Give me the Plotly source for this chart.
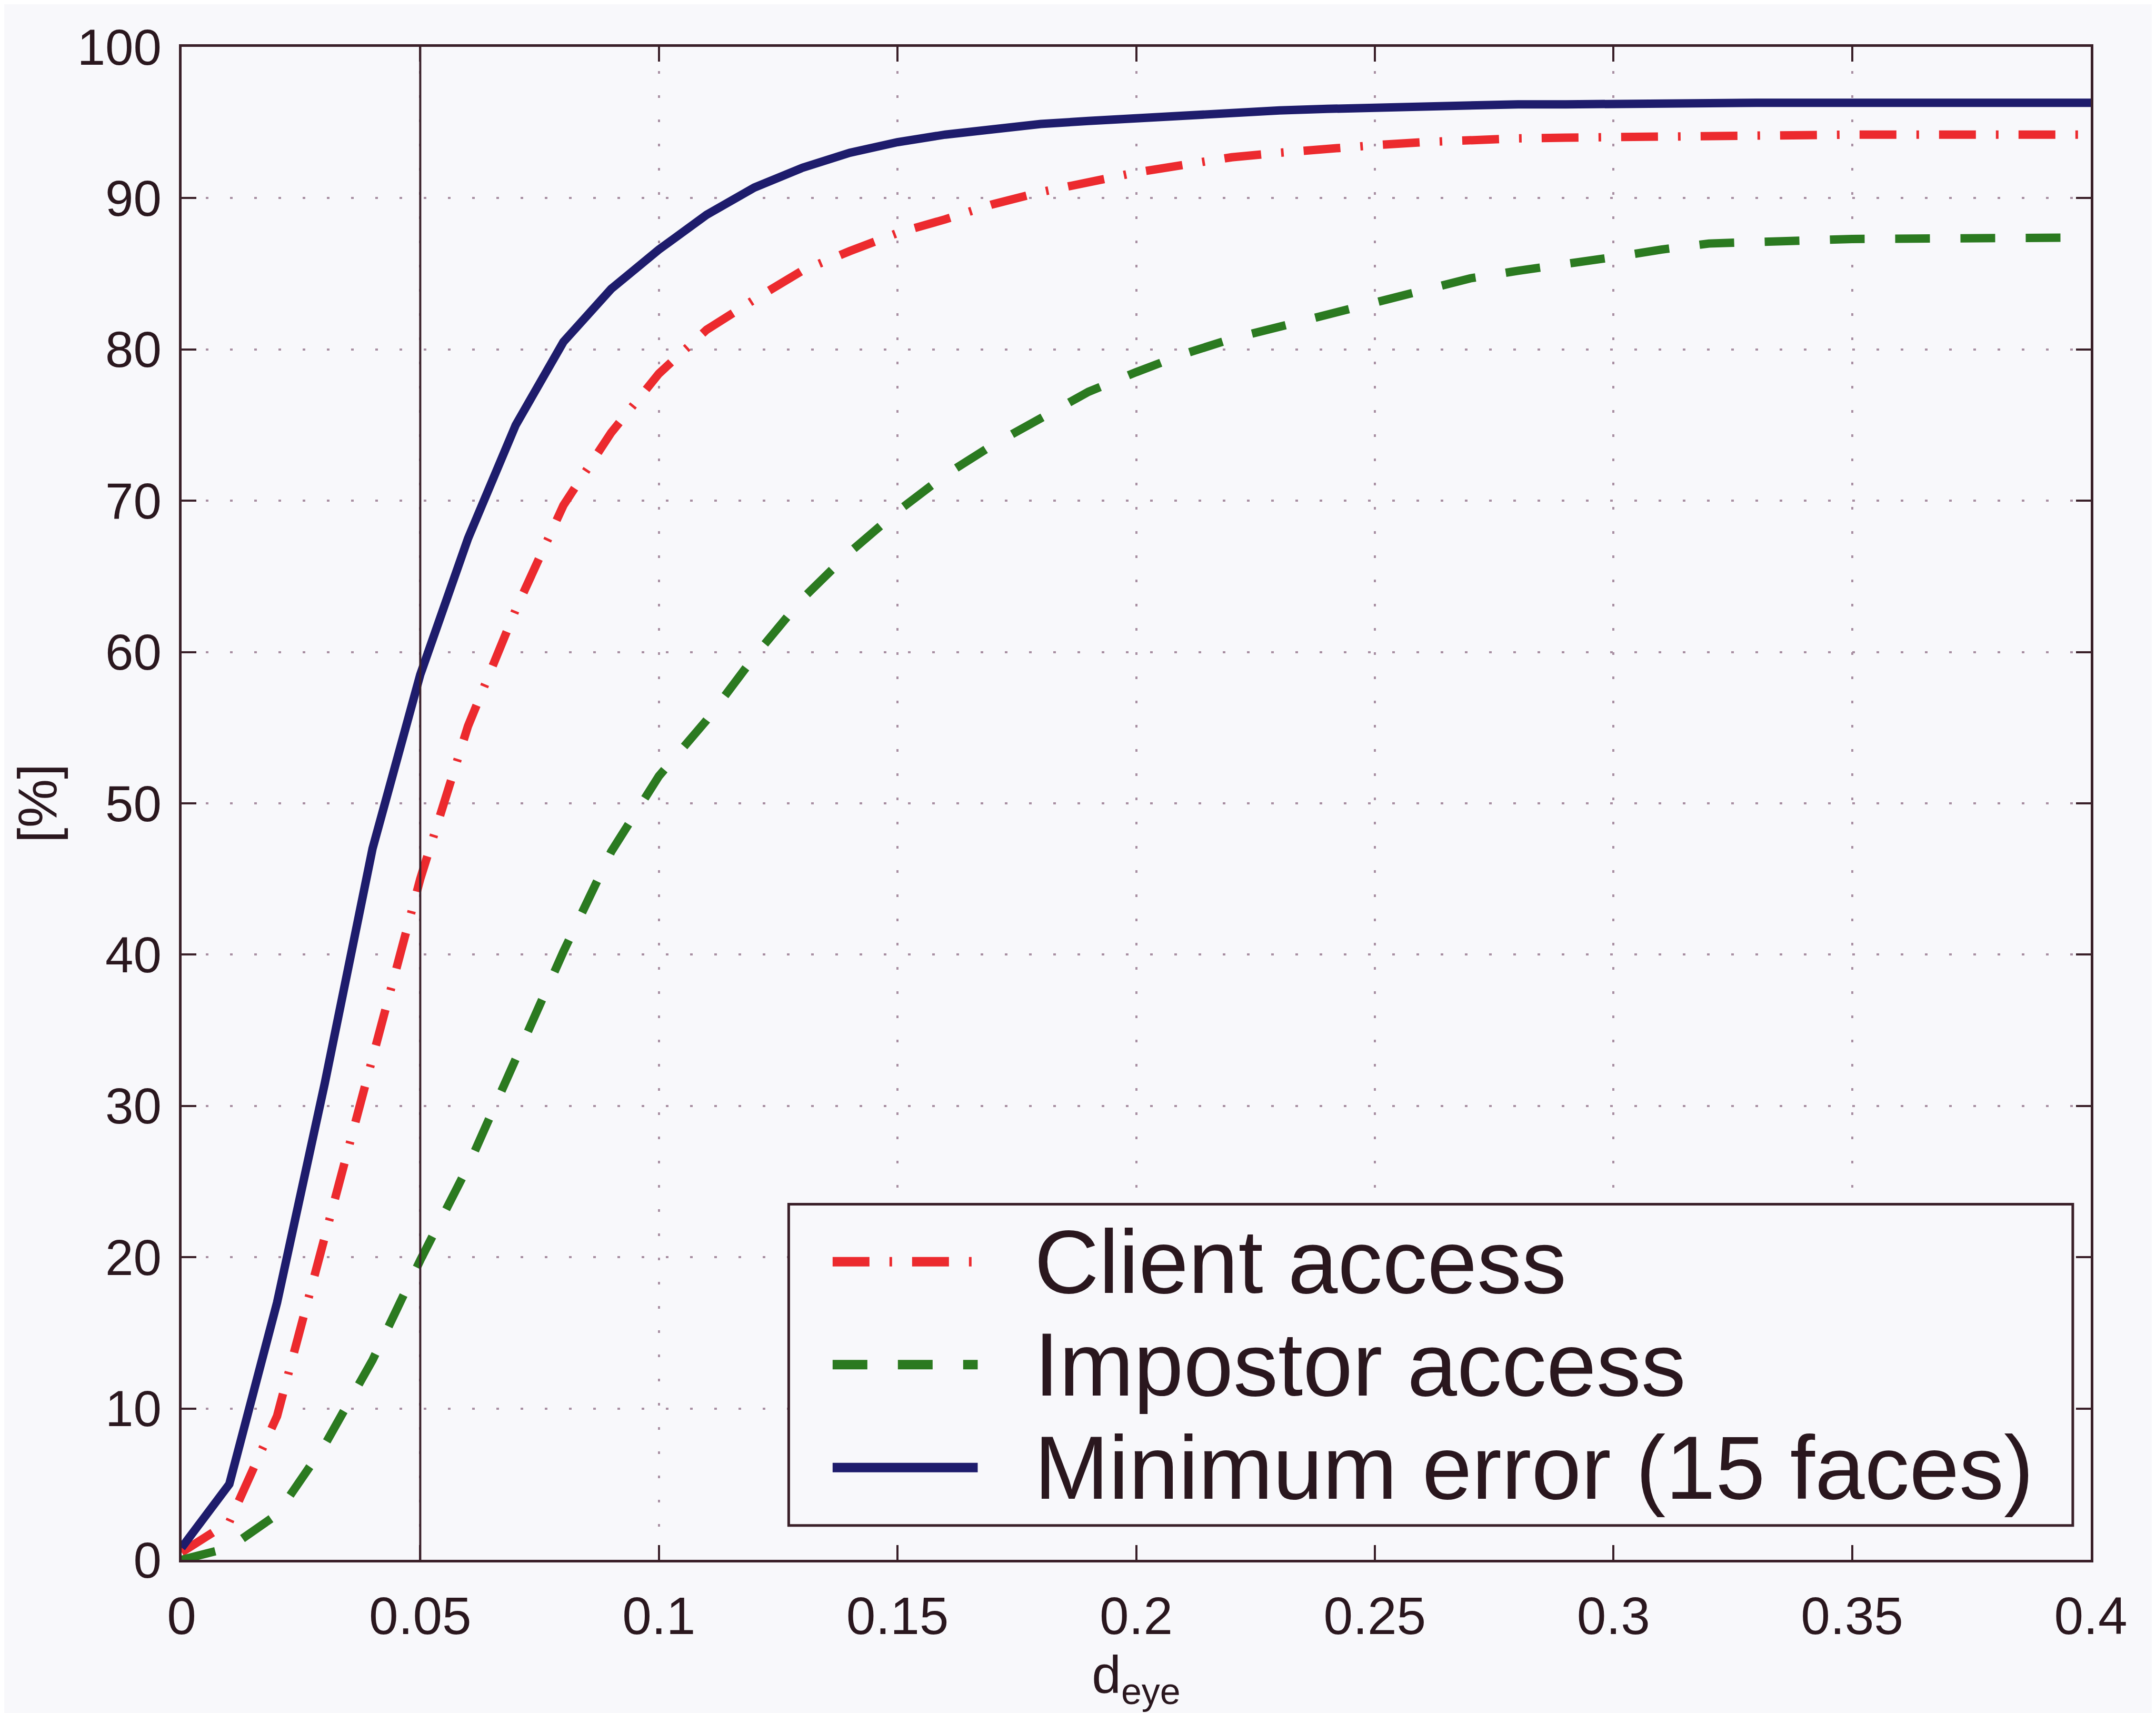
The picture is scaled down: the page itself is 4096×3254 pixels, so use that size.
import plotly.graph_objects as go

# ---- data ----
d_eye = [0.00, 0.01, 0.02, 0.03, 0.04, 0.05, 0.06, 0.07, 0.08, 0.09,
         0.10, 0.11, 0.12, 0.13, 0.14, 0.15, 0.16, 0.17, 0.18, 0.19,
         0.20, 0.21, 0.22, 0.23, 0.24, 0.25, 0.26, 0.27, 0.28, 0.29,
         0.30, 0.31, 0.32, 0.33, 0.34, 0.35, 0.40]

client_access = [0.5, 2.5, 9.5, 21.3, 32.7, 45.0, 55.1, 62.8, 69.7, 74.5,
                 78.4, 81.3, 83.3, 85.2, 86.5, 87.7, 88.6, 89.6, 90.4, 91.1,
                 91.7, 92.2, 92.7, 93.0, 93.3, 93.5, 93.7, 93.85, 93.95, 94.0,
                 94.05, 94.1, 94.1, 94.15, 94.15, 94.2, 94.2]

impostor_access = [0.0, 0.8, 3.0, 7.6, 13.2, 19.8, 26.0, 33.0, 40.2, 46.8,
                   51.8, 55.5, 59.7, 63.5, 66.6, 69.3, 71.7, 73.7, 75.5, 77.2,
                   78.5, 79.7, 80.7, 81.5, 82.3, 83.1, 83.9, 84.7, 85.2, 85.6,
                   86.1, 86.6, 87.0, 87.1, 87.2, 87.3, 87.4]

minimum_error = [0.8, 5.0, 17.0, 31.5, 47.0, 58.5, 67.5, 75.0, 80.5, 84.0,
                 86.6, 88.9, 90.7, 92.0, 93.0, 93.7, 94.2, 94.6, 94.9, 95.1,
                 95.3, 95.5, 95.7, 95.8, 95.9, 96.0, 96.1, 96.15, 96.2, 96.2,
                 96.25, 96.3, 96.3, 96.3, 96.3, 96.3, 96.3]

series_names = ["Client access", "Impostor access", "Minimum error (15 faces)"]
threshold_x = 0.05

x_ticks = [0, 0.05, 0.1, 0.15, 0.2, 0.25, 0.3, 0.35, 0.4]
x_tick_text = ["0", "0.05", "0.1", "0.15", "0.2", "0.25", "0.3", "0.35", "0.4"]
y_ticks = [0, 10, 20, 30, 40, 50, 60, 70, 80, 90, 100]

# ---- styles ----
BG = "#f8f8fb"
INK = "#3a2029"
TXT = "#2a171e"
GRID = "#a88fa2"
RED = "#ec2a2e"
GREEN = "#2b7a20"
BLUE = "#1e1c6c"
LW = 16
RED_DASH = "70px,38px,5px,38px"
GREEN_DASH = "66px,58px"
FONT = "Liberation Sans, Arial"

fig = go.Figure()
fig.add_trace(go.Scatter(x=d_eye, y=client_access, mode="lines", name=series_names[0],
                         line=dict(color=RED, width=LW, dash=RED_DASH), showlegend=False))
fig.add_trace(go.Scatter(x=d_eye, y=impostor_access, mode="lines", name=series_names[1],
                         line=dict(color=GREEN, width=LW, dash=GREEN_DASH), showlegend=False))
fig.add_trace(go.Scatter(x=d_eye, y=minimum_error, mode="lines", name=series_names[2],
                         line=dict(color=BLUE, width=LW), showlegend=False))

# vertical threshold line
fig.add_shape(type="line", xref="x", yref="y", x0=threshold_x, x1=threshold_x, y0=0, y1=100,
              line=dict(color=INK, width=4), layer="above")

# ---- manual legend (box + samples + text) ----
lx0, lx1, ly0, ly1 = 0.318, 0.9906, 0.0227, 0.235
fig.add_shape(type="rect", xref="paper", yref="paper", x0=lx0, x1=lx1, y0=ly0, y1=ly1,
              line=dict(color=INK, width=5), fillcolor=BG, layer="above")
rows_y = [0.197, 0.129, 0.061]
styles = [(RED, RED_DASH), (GREEN, GREEN_DASH), (BLUE, "solid")]
for name, ry, (col, dash) in zip(series_names, rows_y, styles):
    fig.add_shape(type="line", xref="paper", yref="paper", x0=0.341, x1=0.417, y0=ry, y1=ry,
                  line=dict(color=col, width=LW + 2, dash=dash), layer="above")
    fig.add_annotation(xref="paper", yref="paper", x=0.446, y=ry, text=name, showarrow=False,
                       xanchor="left", yanchor="middle",
                       font=dict(family=FONT, size=170, color=TXT))

axis_common = dict(
    showline=True, linecolor=INK, linewidth=5, mirror="ticks",
    ticks="inside", ticklen=28, tickwidth=4, tickcolor=INK,
    showgrid=True, gridcolor=GRID, gridwidth=4, griddash="5px,41px",
    zeroline=False,
)

fig.update_xaxes(range=[0, 0.4], tickvals=x_ticks, ticktext=x_tick_text,
                 tickfont=dict(family=FONT, size=100, color=TXT),
                 title=dict(text="d<sub>eye</sub>", standoff=20,
                            font=dict(family=FONT, size=100, color=TXT)),
                 ticklabelstandoff=16, **axis_common)
fig.update_yaxes(range=[0, 100], tickvals=y_ticks,
                 tickfont=dict(family=FONT, size=96, color=TXT),
                 title=dict(text="[%]", standoff=6,
                            font=dict(family=FONT, size=104, color=TXT)),
                 ticklabelstandoff=14, **axis_common)

fig.update_layout(
    width=4096, height=3254,
    margin=dict(l=337, r=132, t=81, b=299),
    paper_bgcolor=BG, plot_bgcolor=BG,
    font=dict(family=FONT, color=TXT),
)

fig.write_html("out.html")
